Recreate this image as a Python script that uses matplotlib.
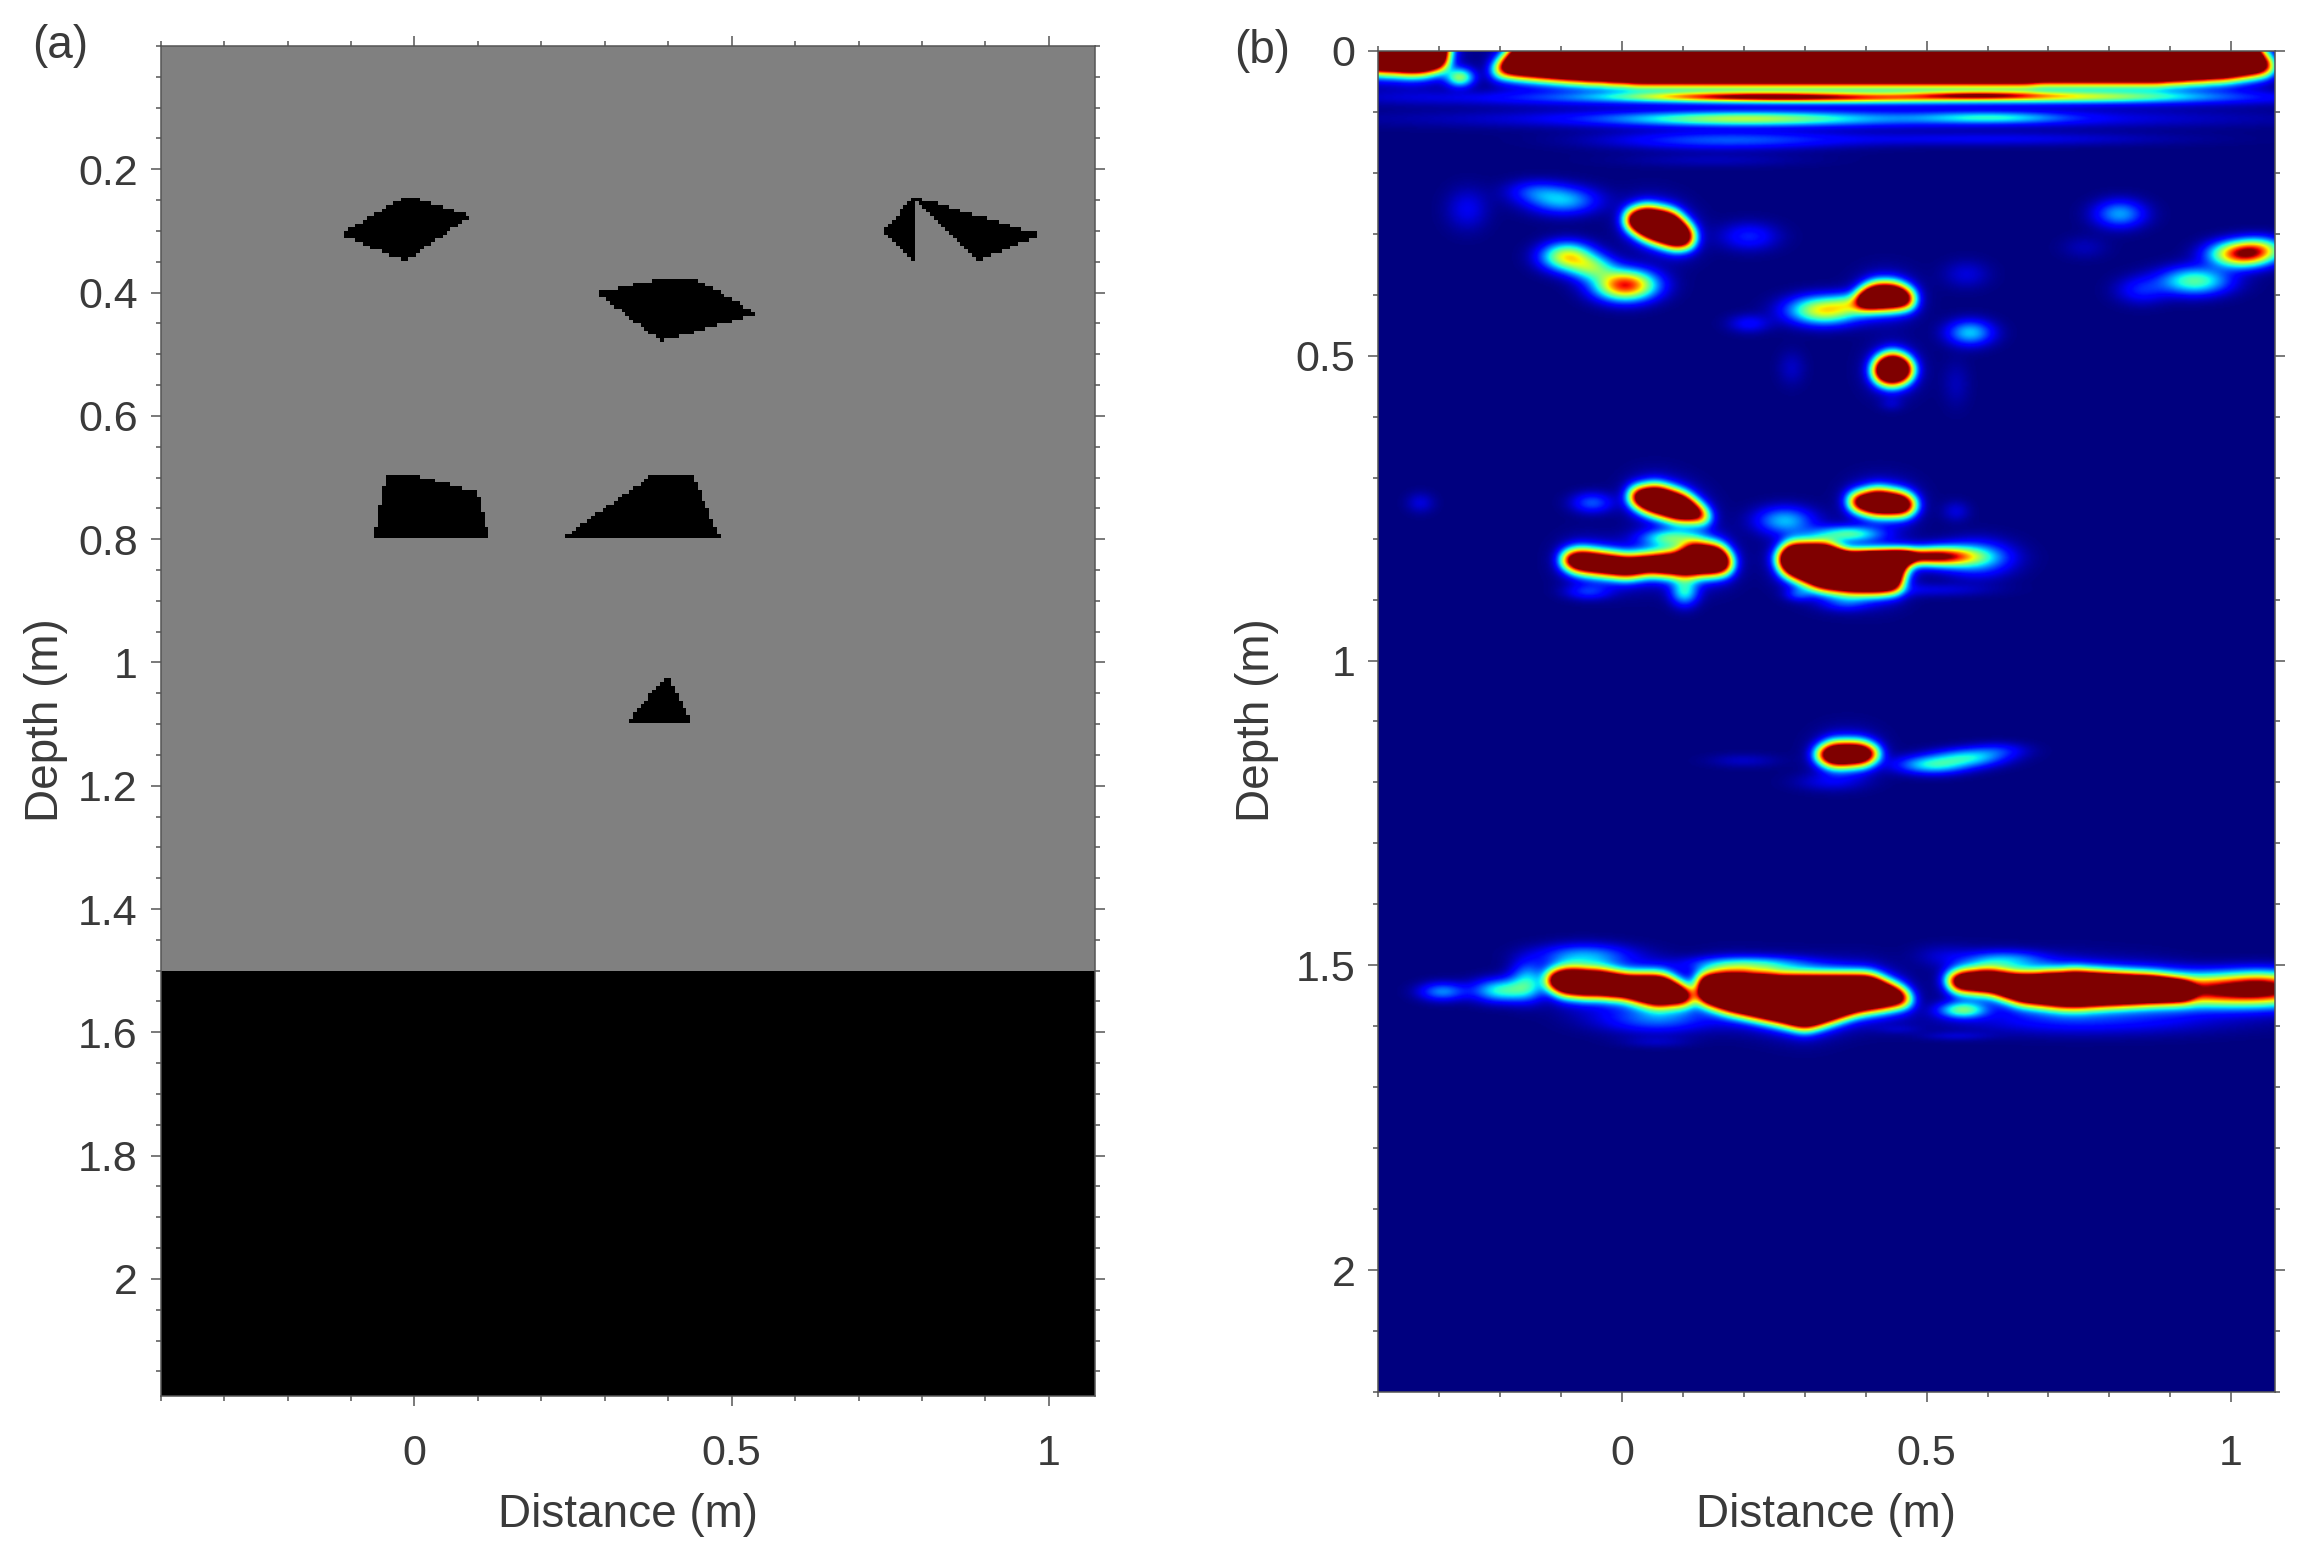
import numpy as np
import matplotlib
matplotlib.use('Agg')
import matplotlib.pyplot as plt
from matplotlib.path import Path
from matplotlib.ticker import MultipleLocator

plt.rcParams['font.family'] = ['Liberation Sans', 'DejaVu Sans']

# (a) permittivity model: black inclusions, outlines as (distance, depth) in m
modelo_formas = [
    [(-.118, .306), (-.014, .243), (.089, .275), (-.014, .349)],
    [(.786, .244), (.738, .301), (.786, .349)],
    [(.786, .244), (.987, .306), (.886, .349)],
    [(.286, .400), (.387, .378), (.439, .376), (.540, .434), (.439, .465), (.387, .478)],
    [(-.046, .695), (-.006, .695), (.098, .723), (.117, .797), (-.064, .797)],
    [(.376, .695), (.438, .695), (.480, .797), (.234, .797)],
    [(.397, 1.021), (.439, 1.099), (.333, 1.099)],
]
modelo_fondo = 0.5
modelo_interfaz = 1.5

# (b) saturated areas of the section, outlines as (distance, depth) in m
seccion_saturada = [
    [(-.5, -.06), (-.284, -.06), (-.29, .026), (-.33, .036), (-.40, .032), (-.5, .032)],
    [(-.12, -.06), (1.012, -.06), (1.053, .011), (1.072, .026), (1.064, .034), (.994, .044),
     (.877, .051), (.478, .053), (.033, .053), (-.084, .047), (-.213, .036)],
    [(.009, .268), (.039, .259), (.086, .268), (.115, .297), (.115, .319), (.086, .321),
     (.039, .305), (.009, .286)],
    [(.39, .40), (.414, .385), (.449, .385), (.478, .40), (.478, .418), (.431, .422), (.39, .418)],
    [(.414, .523), (.423, .507), (.443, .499), (.467, .507), (.478, .523), (.467, .54),
     (.443, .547), (.42, .54)],
    [(.015, .723), (.056, .716), (.103, .731), (.138, .760), (.144, .771), (.09, .768),
     (.039, .753), (.015, .738)],
    [(.373, .734), (.42, .723), (.467, .731), (.484, .745), (.467, .76), (.42, .76), (.379, .749)],
    [(-.096, .83), (-.073, .822), (.009, .833), (.091, .826), (.115, .811), (.162, .815),
     (.179, .837), (.174, .855), (.103, .859), (.044, .855), (.009, .861), (-.073, .852),
     (-.096, .842)],
    [(.256, .833), (.273, .811), (.338, .811), (.373, .83), (.478, .83), (.461, .852),
     (.455, .885), (.385, .888), (.326, .881), (.267, .855)],
    [(.315, 1.155), (.345, 1.139), (.395, 1.139), (.426, 1.153), (.40, 1.168), (.345, 1.172)],
    [(-.12, 1.516), (-.096, 1.509), (-.038, 1.511), (.009, 1.519), (.068, 1.519), (.115, 1.547),
     (.115, 1.561), (.056, 1.565), (-.002, 1.551), (-.096, 1.547), (-.12, 1.533)],
    [(.127, 1.519), (.174, 1.514), (.267, 1.519), (.408, 1.519), (.461, 1.544), (.478, 1.561),
     (.385, 1.576), (.338, 1.592), (.302, 1.603), (.256, 1.592), (.179, 1.575), (.127, 1.558)],
    [(.531, 1.523), (.56, 1.513), (.607, 1.511), (.654, 1.518), (.748, 1.513), (.877, 1.523),
     (.936, 1.537), (.936, 1.551), (.83, 1.561), (.736, 1.568), (.654, 1.56), (.607, 1.544),
     (.549, 1.54)],
]

# (b) weaker reflections: distance, depth, half width, half height, amplitude
seccion_reflejos = [
    # bands under the direct wave
    (.22, .075, .1, .004, .55), (.584, .0734, .06, .0035, .5), (.36, .0785, .15, .004, .35),
    (.77, .0756, .1, .005, .3), (.4, .078, .35, .007, .25),
    (.197, .112, .1, .006, .4), (.607, .11, .06, .005, .25), (.35, .112, .3, .008, .18),
    (.17, .147, .1, .008, .2), (.6, .145, .15, .006, .1), (.15, .18, .08, .006, .05),
    (-.266, .044, .012, .008, .5),
    # upper targets
    (-.096, .246, .03, .012, .3), (-.143, .231, .025, .01, .15), (-.254, .26, .018, .018, .1),
    (.209, .305, .025, .012, .15), (-.09, .338, .022, .012, .62), (-.049, .356, .02, .011, .4),
    (.006, .385, .026, .013, .9), (.332, .426, .03, .012, .65), (.385, .415, .02, .009, .3),
    (.209, .448, .018, .008, .12), (.566, .367, .02, .012, .08), (.572, .463, .02, .011, .32),
    (.279, .521, .012, .015, .06), (.549, .547, .012, .02, .05), (.443, .58, .01, .006, .05),
    (.818, .268, .022, .012, .28), (.76, .323, .02, .01, .05),
    (1.018, .334, .026, .011, .9), (1.05, .325, .02, .01, .35), (.941, .378, .03, .012, .45),
    (.853, .393, .022, .012, .14),
    # targets at 0.8 m
    (-.331, .742, .012, .009, .08), (-.049, .742, .018, .009, .2), (.267, .771, .025, .012, .3),
    (.549, .756, .012, .009, .08), (.08, .80, .025, .008, .4), (.373, .793, .028, .007, .4),
    (-.055, .888, .02, .007, .15), (.103, .888, .012, .012, .35), (.291, .892, .012, .006, .15),
    (.367, .907, .02, .007, .12), (.584, .833, .03, .015, .3), (.525, .83, .03, .009, .6),
    (.449, .83, .05, .007, .75), (.51, .885, .05, .006, .08),
    # target at 1.15 m
    (.51, 1.172, .03, .008, .36), (.57, 1.16, .03, .008, .32), (.62, 1.148, .025, .007, .12),
    (.34, 1.20, .03, .008, .08), (.2, 1.165, .03, .006, .06),
    # interface at 1.5 m
    (1.0, 1.542, .09, .014, 1.05), (1.053, 1.533, .03, .012, .3), (-.295, 1.544, .02, .008, .25),
    (-.196, 1.542, .025, .01, .4), (-.155, 1.526, .015, .016, .3), (-.061, 1.485, .04, .01, .25),
    (.209, 1.499, .05, .007, .3), (.631, 1.492, .035, .008, .25), (.525, 1.485, .025, .01, .06),
    (.056, 1.589, .05, .012, .2), (.56, 1.574, .02, .007, .45), (.056, 1.627, .03, .005, .05),
    (.549, 1.617, .03, .004, .06), (.771, 1.592, .12, .012, .12), (.455, 1.606, .02, .004, .04),
]

distancia_ticks = [0, 0.5, 1]
distancia_labels = ['0', '0.5', '1']
prof_ticks_a = [0.2, 0.4, 0.6, 0.8, 1, 1.2, 1.4, 1.6, 1.8, 2]
prof_labels_a = ['0.2', '0.4', '0.6', '0.8', '1', '1.2', '1.4', '1.6', '1.8', '2']
prof_ticks_b = [0, 0.5, 1, 1.5, 2]
prof_labels_b = ['0', '0.5', '1', '1.5', '2']

ANCHO, ALTO = 2319, 1563
COLOR_TEXTO = '#3a3a3a'
COLOR_EJE = '#555555'
ENSANCHE = 1.3  # weak reflections spread a bit more than they look at first


def dentro(forma, xx, zz):
    return Path(forma).contains_points(np.column_stack([xx.ravel(), zz.ravel()])).reshape(xx.shape)


def suavizar(campo, sigma):
    n = int(4 * sigma)
    k = np.exp(-0.5 * (np.arange(-n, n + 1) / sigma) ** 2)
    k = k / k.sum()
    campo = np.apply_along_axis(lambda f: np.convolve(f, k, mode='same'), 0, campo)
    return np.apply_along_axis(lambda f: np.convolve(f, k, mode='same'), 1, campo)


def nuevo_eje(izq, der, arriba, abajo):
    return fig.add_axes([izq / ANCHO, 1 - abajo / ALTO, (der - izq) / ANCHO, (abajo - arriba) / ALTO])


def formato_eje(ax, yticks, ylabels, ymenor, ylim, pad_x):
    ax.set_xlim(-0.4, 1.072)
    ax.set_ylim(ylim, 0)
    ax.set_xticks(distancia_ticks, distancia_labels)
    ax.set_yticks(yticks, ylabels)
    ax.xaxis.set_minor_locator(MultipleLocator(0.1))
    ax.yaxis.set_minor_locator(MultipleLocator(ymenor))
    ax.tick_params(which='both', direction='out', top=True, right=True, color=COLOR_EJE, width=1.1)
    ax.tick_params(which='major', length=7.5, labelsize=31, labelcolor=COLOR_TEXTO)
    ax.tick_params(which='minor', length=3.5)
    ax.tick_params(axis='x', which='major', pad=pad_x)
    ax.tick_params(axis='y', which='major', pad=9)
    for lado in ax.spines.values():
        lado.set_color(COLOR_EJE)
        lado.set_linewidth(1.1)


fig = plt.figure(figsize=(ANCHO / 100, ALTO / 100), dpi=100)

# panel (a)
ax1 = nuevo_eje(160.6, 1094.6, 46, 1396)
paso = 0.006
x_m = np.arange(-0.4, 1.08, paso) + paso / 2
z_m = np.arange(0, 2.2, paso) + paso / 2
xx, zz = np.meshgrid(x_m, z_m)
modelo = np.full(xx.shape, modelo_fondo)
modelo[zz >= modelo_interfaz] = 0
for forma in modelo_formas:
    modelo[dentro(forma, xx, zz)] = 0
ax1.imshow(modelo, cmap='gray', vmin=0, vmax=1, aspect='auto', interpolation='nearest',
           extent=[x_m[0] - paso / 2, x_m[-1] + paso / 2, z_m[-1] + paso / 2, z_m[0] - paso / 2])
formato_eje(ax1, prof_ticks_a, prof_labels_a, 0.05, 2.19, 20)

# panel (b)
ax2 = nuevo_eje(1378.4, 2275, 51, 1392)
dx = 0.002
x_s = np.arange(-0.55, 1.15, dx)
z_s = np.arange(-0.1, 2.25, dx)
xx, zz = np.meshgrid(x_s, z_s)
mascara = np.zeros(xx.shape)
for forma in seccion_saturada:
    mascara[dentro(forma, xx, zz)] = 1
# sharp ring plus a wide faint halo around the saturated areas
seccion = 1.7 * suavizar(mascara, 0.011 / dx) + 0.35 * suavizar(mascara, 0.024 / dx)
for x0, z0, sx, sz, amp in seccion_reflejos:
    seccion += amp * np.exp(-0.5 * (((xx - x0) / (sx * ENSANCHE)) ** 2 + ((zz - z0) / (sz * ENSANCHE)) ** 2))
ax2.imshow(seccion, cmap='jet', vmin=0, vmax=1, aspect='auto', interpolation='bilinear',
           extent=[x_s[0], x_s[-1], z_s[-1], z_s[0]])
formato_eje(ax2, prof_ticks_b, prof_labels_b, 0.1, 2.2, 23)


# labels placed by pixel position like in the original layout
def texto(x, y, s, **kw):
    fig.text(x / ANCHO, 1 - y / ALTO, s, ha='center', va='center', color=COLOR_TEXTO, **kw)


texto(60, 46, '(a)', fontsize=33)
texto(1262, 51, '(b)', fontsize=33)
texto(46, 720, 'Depth (m)', fontsize=33, rotation=90)
texto(1257, 720, 'Depth (m)', fontsize=33, rotation=90)
texto(628, 1515, 'Distance (m)', fontsize=33)
texto(1826, 1515, 'Distance (m)', fontsize=33)

fig.savefig('out.png', dpi=100)
